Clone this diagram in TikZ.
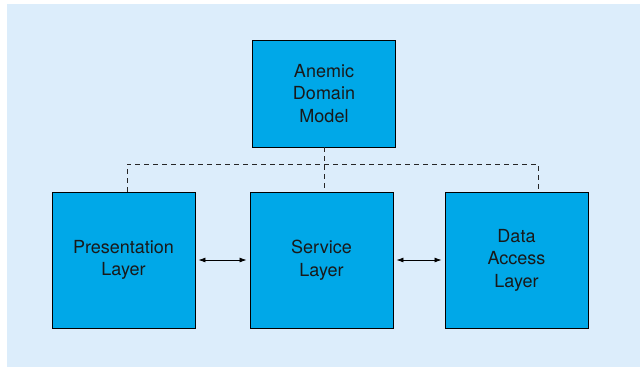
\documentclass[tikz,border=0pt]{standalone}
\usepackage{fontspec}
\setmainfont{TeX Gyre Heros}
\usetikzlibrary{arrows.meta}

\definecolor{bgblue}{RGB}{220,237,251}
\definecolor{boxblue}{RGB}{0,168,232}
\definecolor{inkgray}{RGB}{25,25,25}

\tikzset{
	layer/.style={draw=black, fill=boxblue, line width=0.9pt, text=inkgray,
		minimum width=143pt, minimum height=136pt, inner sep=0pt,
		align=center, font=\fontsize{18}{22.5}\selectfont},
	bus/.style={draw=black!85, line width=0.8pt, dash pattern=on 5pt off 4pt},
	link/.style={{Latex[length=7pt,width=5pt]}-{Latex[length=7pt,width=5pt]}, line width=0.8pt,
		shorten <=3pt, shorten >=3pt}
}

\begin{document}
\begin{tikzpicture}[x=1pt,y=-1pt]
		\useasboundingbox (0,0) rectangle (642,367);
		\fill[bgblue] (7,4) rectangle (640,367);
		% domain model on top, three layers below
		\node[layer, minimum height=107pt] (model) at (324,93.5) {Anemic\\Domain\\Model};
		\node[layer] (pres) at (123.5,260) {Presentation\\Layer};
		\node[layer] (serv) at (321.5,260) {Service\\Layer};
		\node[layer] (data) at (516.5,260) {Data\\Access\\Layer};
		% dashed bus
		\coordinate (busL) at (127,164);
		\coordinate (busR) at (538,164);
		\draw[bus] (busL |- pres.north) -- (busL) -- (busR) -- (busR |- data.north);
		\draw[bus] (model.south) -- (model.south |- serv.north);
		% calls between layers
		\draw[link] (pres.east) -- (serv.west);
		\draw[link] (serv.east) -- (data.west);
\end{tikzpicture}
\end{document}
